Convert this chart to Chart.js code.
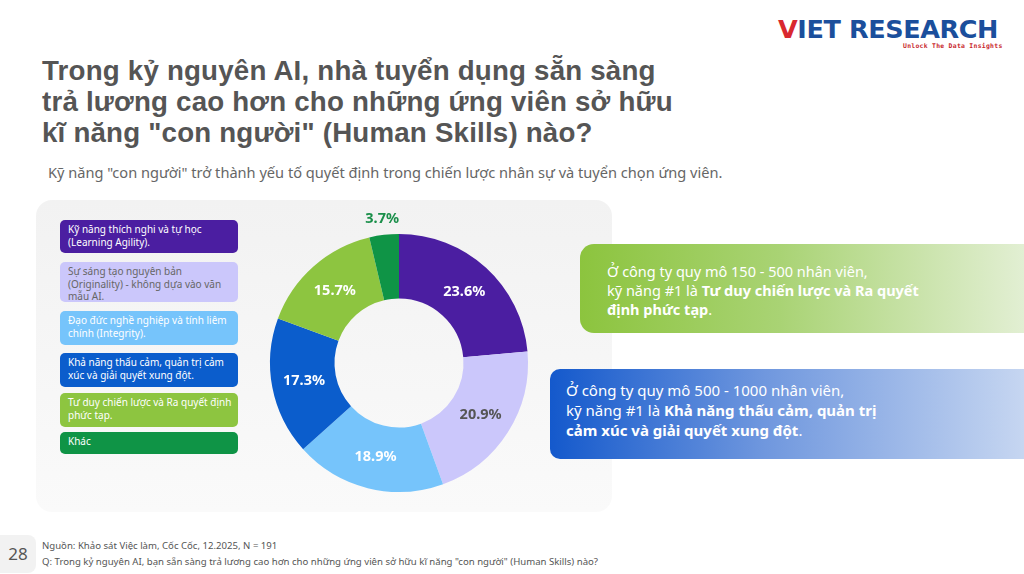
<!DOCTYPE html>
<html>

<head>
  <title>Human Skills - Viet Research</title>
  <meta charset="UTF-8">
  <script src="https://cdn.jsdelivr.net/npm/chart.js@4.4.1/dist/chart.umd.min.js"></script>
  <style>
    body { margin: 0; width: 1024px; height: 574px; background: #fff; position: relative; overflow: hidden; font-family: "Noto Sans", sans-serif; }
    .abs { position: absolute; }
    .title { position: absolute; left: 42px; font-family: "Liberation Sans", sans-serif; font-size: 27.7px; font-weight: 700; color: #555; line-height: 31px; letter-spacing: 0.2px; white-space: nowrap; }
    #subtitle { left: 48px; top: 162px; font-size: 14.6px; color: #666; }
    #panel { left: 36px; top: 200px; width: 576px; height: 312px; border-radius: 16px; background: linear-gradient(#f2f2f2, #fafafa); }
    .leg { position: absolute; left: 60px; width: 166px; padding: 3px 4px 0 8px; border-radius: 5px; font-size: 10px; line-height: 12.5px; color: #fff; white-space: pre-line; }
    .box { position: absolute; color: #fff; font-size: 14.5px; line-height: 19px; }
    #logo { left: 778px; top: 17px; font-family: "DejaVu Sans", sans-serif; font-weight: 700; font-size: 25.5px; line-height: 24px; color: #1b4f9c; letter-spacing: -0.4px; }
    #logo span { color: #d9282f; }
    #tag { left: 903px; top: 42px; font-family: "DejaVu Sans Mono", monospace; font-weight: 700; font-size: 6.4px; line-height: 8px; color: #c8272d; letter-spacing: 0.3px; }
    #page { left: 0; top: 535px; width: 36px; height: 38px; background: #f2f2f2; border-radius: 0 8px 8px 0; color: #555; font-size: 17px; line-height: 38px; text-align: center; }
    #src { left: 42px; top: 538px; font-size: 9.6px; line-height: 16px; color: #555; white-space: nowrap; }
  </style>
</head>

<body>
  <div id="logo" class="abs"><span>V</span>IET RESEARCH</div>
  <div id="tag" class="abs">Unlock The Data Insights</div>
  <div class="title" style="top:55px;">Trong kỷ nguyên AI, nhà tuyển dụng sẵn sàng</div>
  <div class="title" style="top:86px;">trả lương cao hơn cho những ứng viên sở hữu</div>
  <div class="title" style="top:117px;">kĩ năng "con người" (Human Skills) nào?</div>
  <div id="subtitle" class="abs">Kỹ năng "con người" trở thành yếu tố quyết định trong chiến lược nhân sự và tuyển chọn ứng viên.</div>
  <div id="panel" class="abs"></div>
  <div id="legend"></div>
  <div style="position:absolute;left:239px;top:203px;width:320px;height:320px;">
    <canvas id="myChart"></canvas>
  </div>

  <div class="box" style="left:580px;top:244px;width:444px;height:89px;border-radius:14px 0 0 14px;background:linear-gradient(90deg,#8cc43e 0%,#a9d374 45%,#e2efd3 100%);">
    <div style="padding:18px 0 0 27px;">Ở công ty quy mô 150 - 500 nhân viên,<br>kỹ năng #1 là <b>Tư duy chiến lược và Ra quyết<br>định phức tạp</b>.</div>
  </div>
  <div class="box" style="left:550px;top:369px;width:474px;height:90px;border-radius:10px 0 0 10px;background:linear-gradient(90deg,#1459cc 0%,#6f97de 45%,#c6d6f1 100%);">
    <div style="padding:11px 0 0 16px;font-size:15px;line-height:20px;">Ở công ty quy mô 500 - 1000 nhân viên,<br>kỹ năng #1 là <b>Khả năng thấu cảm, quản trị<br>cảm xúc và giải quyết xung đột</b>.</div>
  </div>

  <div id="page" class="abs">28</div>
  <div id="src" class="abs">Nguồn: Khảo sát Việc làm, Cốc Cốc, 12.2025, N = 191<br>Q: Trong kỷ nguyên AI, bạn sẵn sàng trả lương cao hơn cho những ứng viên sở hữu kĩ năng "con người" (Human Skills) nào?</div>

  <script>
    var categories = [
      "Kỹ năng thích nghi và tự học\n(Learning Agility).",
      "Sự sáng tạo nguyên bản\n(Originality) - không dựa vào văn\nmẫu AI.",
      "Đạo đức nghề nghiệp và tính liêm\nchính (Integrity).",
      "Khả năng thấu cảm, quản trị cảm\nxúc và giải quyết xung đột.",
      "Tư duy chiến lược và Ra quyết định\nphức tạp.",
      "Khác"
    ];
    var values = [23.6, 20.9, 18.9, 17.3, 15.7, 3.7];
    var colors = ["#4b1ea1", "#cbc7fb", "#76c4fb", "#0b5dcc", "#8dc540", "#0f9446"];
    var labelColors = ["#fff", "#555", "#fff", "#fff", "#fff", "#1a8f4a"];

    // legend boxes on the left (tops and heights)
    var legTop = [220, 262, 311, 353, 393, 432];
    var legH = [30, 37, 31, 31, 31, 19];
    var legText = ["#fff", "#666", "#fff", "#fff", "#fff", "#fff"];
    var legend = document.getElementById("legend");
    for (let i = 0; i < categories.length; i++) {
      var d = document.createElement("div");
      d.className = "leg";
      d.style.top = legTop[i] + "px";
      d.style.height = legH[i] + "px";
      d.style.background = colors[i];
      d.style.color = legText[i];
      d.textContent = categories[i];
      legend.appendChild(d);
    }

    var pctLabels = {
      id: "pctLabels",
      afterDatasetsDraw: function(chart) {
        var ctx = chart.ctx;
        var meta = chart.getDatasetMeta(0);
        ctx.save();
        ctx.font = "bold 14.5px 'Noto Sans'";
        ctx.textAlign = "center";
        ctx.textBaseline = "middle";
        meta.data.forEach(function(arc, i) {
          var p = arc.getProps(["x", "y", "startAngle", "endAngle", "innerRadius", "outerRadius"]);
          var mid = (p.startAngle + p.endAngle) / 2;
          var r = i == 5 ? p.outerRadius + 16 : (p.innerRadius + p.outerRadius) / 2;
          ctx.fillStyle = labelColors[i];
          ctx.fillText(values[i].toFixed(1) + "%", p.x + Math.cos(mid) * r, p.y + Math.sin(mid) * r);
        });
        ctx.restore();
      }
    };

    var ctx = document.getElementById("myChart").getContext("2d");
    var chart = new Chart(ctx, {
      type: "doughnut",
      data: {
        labels: categories,
        datasets: [{
          data: values,
          backgroundColor: colors,
          borderWidth: 0
        }]
      },
      options: {
        responsive: true,
        maintainAspectRatio: false,
        animation: false,
        cutout: "50%",
        layout: { padding: 31 },
        plugins: { legend: { display: false }, tooltip: { enabled: false } }
      },
      plugins: [pctLabels]
    });
  </script>
</body>

</html>
